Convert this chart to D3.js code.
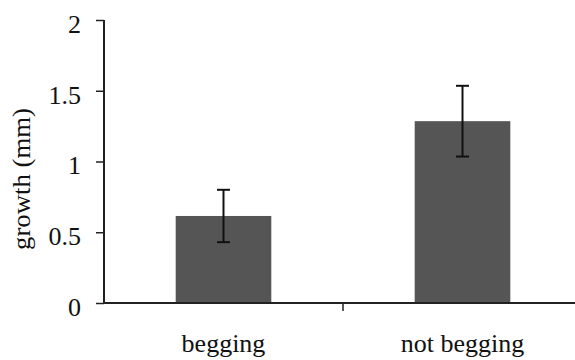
<!DOCTYPE html>
<html>
<head>
<meta charset="utf-8">
<script src="https://cdn.jsdelivr.net/npm/d3@7"></script>
<style>
  body { margin: 0; background: #fff; }
  text { font-family: "Liberation Serif", "Times New Roman", serif; fill: #111; }
</style>
</head>
<body>
<svg width="575" height="360"></svg>
<script>
var categories = ["begging", "not begging"]
var growth = [0.615, 1.285]
var errors = [0.185, 0.25]
var yTicks = [0, 0.5, 1, 1.5, 2]

var svg = d3.select("svg")
var plotLeft = 104, plotRight = 582, plotTop = 20, plotBottom = 303

var yScale = d3.scaleLinear().domain([0, 2]).range([plotBottom, plotTop])
// outer band: one slot per category, used for the separator ticks
var xOuter = d3.scaleBand().domain(categories).range([plotLeft, plotRight])
var xScale = d3.scaleBand().domain(categories).range([plotLeft, plotRight])
  .paddingInner(0.6).paddingOuter(0.3)

// bars
svg.selectAll("rect.bar")
  .data(categories)
  .enter()
  .append("rect")
  .attr("class", "bar")
  .attr("x", d => xScale(d))
  .attr("y", (d, i) => yScale(growth[i]))
  .attr("width", xScale.bandwidth())
  .attr("height", (d, i) => plotBottom - yScale(growth[i]))
  .style("fill", "#555555")

// error bars
var errG = svg.selectAll("g.err")
  .data(categories)
  .enter()
  .append("g")
  .attr("class", "err")
  .attr("transform", d => "translate(" + (xScale(d) + xScale.bandwidth() / 2) + ",0)")
errG.append("line")
  .attr("y1", (d, i) => yScale(growth[i] + errors[i]))
  .attr("y2", (d, i) => yScale(growth[i] - errors[i]))
  .style("stroke", "#111").style("stroke-width", 2)
errG.append("line")
  .attr("x1", -6.5).attr("x2", 6.5)
  .attr("y1", (d, i) => yScale(growth[i] + errors[i]))
  .attr("y2", (d, i) => yScale(growth[i] + errors[i]))
  .style("stroke", "#111").style("stroke-width", 2)
errG.append("line")
  .attr("x1", -6.5).attr("x2", 6.5)
  .attr("y1", (d, i) => yScale(growth[i] - errors[i]))
  .attr("y2", (d, i) => yScale(growth[i] - errors[i]))
  .style("stroke", "#111").style("stroke-width", 2)

// y axis
var yAxis = d3.axisLeft(yScale).tickValues(yTicks).tickSize(8).tickPadding(15)
  .tickFormat(d => String(d))
var yG = svg.append("g").attr("transform", "translate(" + plotLeft + ",0)").call(yAxis)
yG.select(".domain").attr("d", "M0," + plotTop + "V" + plotBottom)
  .style("stroke", "#222").style("stroke-width", 2)
yG.selectAll(".tick line").style("stroke", "#222").style("stroke-width", 1.5)
yG.selectAll(".tick text")
  .attr("dy", "0.48em")
  .style("font-size", "26px")
  .style("font-family", "'Liberation Serif', 'Times New Roman', serif")
  .style("fill", "#111")

// x axis line and separator ticks
svg.append("line")
  .attr("x1", plotLeft).attr("x2", 575)
  .attr("y1", plotBottom).attr("y2", plotBottom)
  .style("stroke", "#222").style("stroke-width", 2)
svg.selectAll("line.sep")
  .data(categories.slice(1))
  .enter()
  .append("line")
  .attr("class", "sep")
  .attr("x1", d => xOuter(d)).attr("x2", d => xOuter(d))
  .attr("y1", plotBottom).attr("y2", plotBottom + 8)
  .style("stroke", "#222").style("stroke-width", 1.5)

// category labels
svg.selectAll("text.cat")
  .data(categories)
  .enter()
  .append("text")
  .attr("class", "cat")
  .attr("x", d => xScale(d) + xScale.bandwidth() / 2)
  .attr("y", 352)
  .attr("text-anchor", "middle")
  .style("font-size", "26px")
  .text(d => d)

// y label
svg.append("text")
  .attr("transform", "translate(30,179) rotate(-90)")
  .attr("text-anchor", "middle")
  .attr("textLength", 142)
  .attr("lengthAdjust", "spacingAndGlyphs")
  .style("font-size", "26px")
  .text("growth (mm)")
</script>
</body>
</html>
